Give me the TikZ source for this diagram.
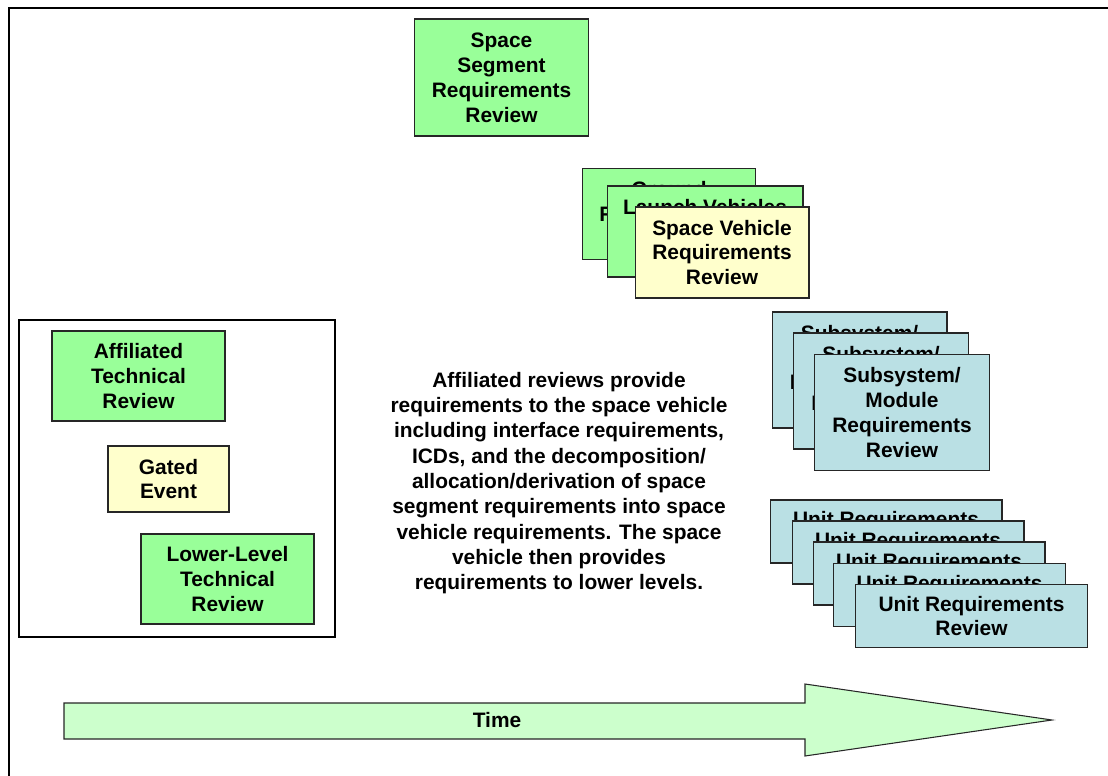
\documentclass[tikz,border=0pt]{standalone}
\usepackage{fontspec}
\setmainfont{Liberation Sans}
\usepackage{tikz}
\usepackage{xcolor}
\usetikzlibrary{positioning}
\definecolor{revgreen}{HTML}{99FF99}
\definecolor{gateyellow}{HTML}{FFFFCC}
\definecolor{lowteal}{HTML}{BAE0E4}
\definecolor{timegreen}{HTML}{CCFFCC}
\tikzstyle{review} = [rectangle, draw=black!85, line width=0.6pt, align=center, inner sep=0pt, font=\bfseries\fontsize{11.9}{14.2}\selectfont]
\tikzstyle{greenbox} = [review, fill=revgreen, minimum width=3.47cm, minimum height=1.82cm]
\tikzstyle{yellowbox} = [review, fill=gateyellow]
\tikzstyle{subsysbox} = [review, fill=lowteal, minimum width=3.5cm, minimum height=2.32cm]
\tikzstyle{unitbox} = [review, fill=lowteal, minimum width=4.64cm, minimum height=1.26cm]
\tikzstyle{note} = [align=center, font=\bfseries\fontsize{11.9}{14.4}\selectfont]

\begin{document}
\begin{tikzpicture}[x=0.02cm, y=-0.02cm]
\useasboundingbox (0,0) rectangle (1108,776);
\clip (0,0) rectangle (1108,776);

% Outer frame
\draw [line width=1.2pt] (9,8) rectangle (1130,800);

% Top level
\node (spaceseg) [greenbox, minimum height=2.34cm] at (501.5,77.5) {Space\\Segment\\Requirements\\Review};

% Segment level stack
\node (ground) [greenbox] at (669,214) {Ground\\Requirements\\Review};
\node (launch) [greenbox, minimum width=3.92cm] at (705,231.5) {Launch Vehicles\\Requirements\\Review};
\node (spaceveh) [yellowbox, minimum width=3.48cm, minimum height=1.82cm] at (722,252.5) {Space Vehicle\\Requirements\\Review};

% Legend
\draw [line width=0.6pt] (19,320) rectangle (335,637);
\node (affiliated) [greenbox, minimum width=3.46cm, minimum height=1.8cm] at (138.5,376) {Affiliated\\Technical\\Review};
\node (gated) [yellowbox, minimum width=2.42cm, minimum height=1.32cm] at (168.5,479) {Gated\\Event};
\node (lowerlevel) [greenbox, minimum width=3.46cm, minimum height=1.8cm] at (227.5,579) {Lower-Level\\Technical\\Review};

% Explanation
\node (explain) [note] at (559,483) {Affiliated reviews provide\\requirements to the space vehicle\\including interface requirements,\\ICDs, and the decomposition/\\allocation/derivation of space\\segment requirements into space\\vehicle requirements. The space\\vehicle then provides\\requirements to lower levels.};

% Subsystem stack
\node (subsys1) [subsysbox] at (859.5,370) {Subsystem/\\Module\\Requirements\\Review};
\node (subsys2) [subsysbox] at (881,391) {Subsystem/\\Module\\Requirements\\Review};
\node (subsys3) [subsysbox] at (902,412.5) {Subsystem/\\Module\\Requirements\\Review};

% Unit stack
\node (unit1) [unitbox] at (886,531.5) {Unit Requirements\\Review};
\node (unit2) [unitbox] at (908,552.5) {Unit Requirements\\Review};
\node (unit3) [unitbox] at (929,573.5) {Unit Requirements\\Review};
\node (unit4) [unitbox] at (949.5,595) {Unit Requirements\\Review};
\node (unit5) [unitbox] at (971.5,616) {Unit Requirements\\Review};

% Time arrow
\draw [fill=timegreen, draw=black!85, line width=0.6pt] (64,703) -- (805,703) -- (805,684) -- (1052,720) -- (805,756) -- (805,739) -- (64,739) -- cycle;
\node (time) [note] at (497,720) {Time};

\end{tikzpicture}
\end{document}
